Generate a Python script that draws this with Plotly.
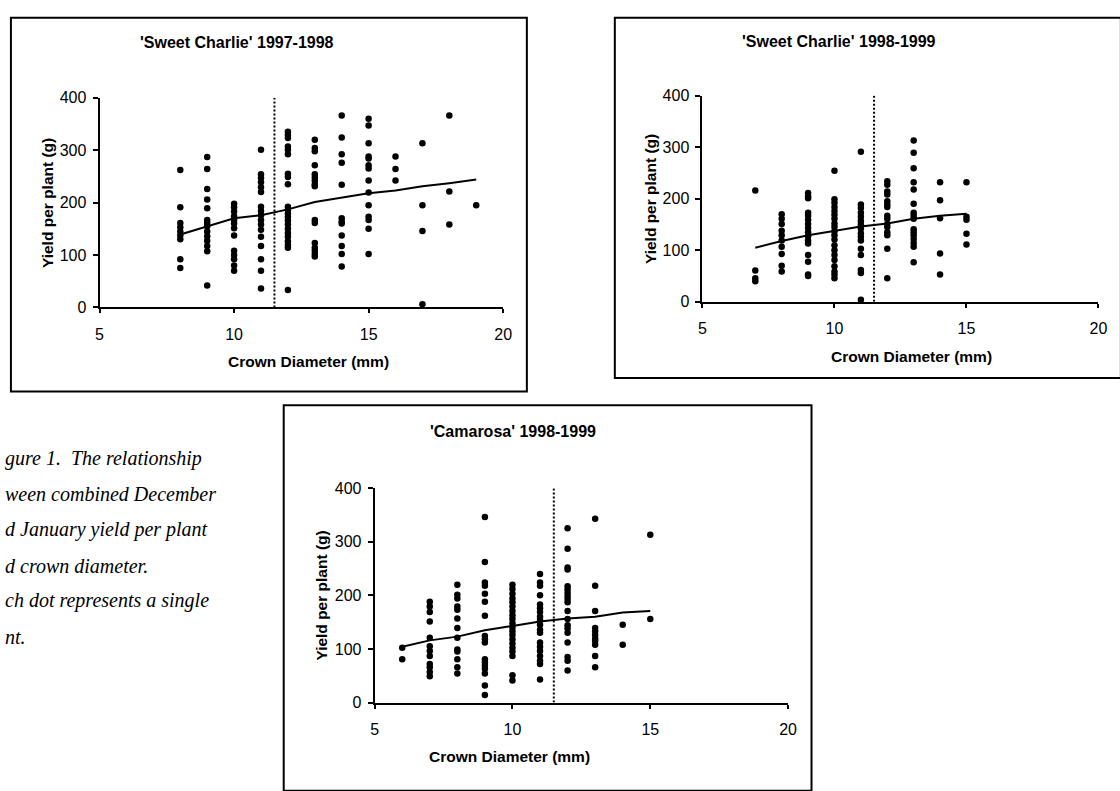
import plotly.graph_objects as go

W, H = 1120, 791

# ---------------- data ----------------
# 'Sweet Charlie' 1997-1998
sc9798_diam = [8, 9, 10, 11, 12, 13, 14, 15, 16, 17, 18, 19]
sc9798_yield = [
    [262, 191, 161, 153, 145, 137, 130, 92, 75],
    [287, 264, 226, 206, 189, 167, 161, 155, 145, 136, 127, 117, 107, 42],
    [198, 191, 183, 174, 167, 160, 151, 137, 108, 100, 92, 80, 70],
    [301, 254, 247, 239, 229, 220, 192, 184, 176, 167, 158, 148, 135, 117, 92, 70, 36],
    [335, 329, 323, 307, 301, 292, 255, 249, 235, 192, 186, 179, 173, 166, 158, 150, 142, 135, 126, 119, 114, 33],
    [320, 304, 298, 271, 254, 248, 242, 235, 231, 167, 161, 123, 114, 108, 102, 97],
    [366, 324, 292, 276, 234, 170, 164, 160, 137, 117, 102, 78],
    [360, 347, 313, 288, 284, 271, 265, 242, 219, 195, 173, 167, 150, 102],
    [288, 264, 242],
    [313, 195, 146, 6],
    [366, 221, 158],
    [195],
]
sc9798_trend_diam = [8, 9, 10, 11, 12, 13, 14, 15, 16, 17, 18, 19]
sc9798_trend_yield = [139, 155, 170, 176, 187, 201, 209, 218, 223, 231, 237, 244]

# 'Sweet Charlie' 1998-1999
sc9899_diam = [7, 8, 9, 10, 11, 12, 13, 14, 15]
sc9899_yield = [
    [216, 61, 46, 40],
    [170, 161, 151, 138, 129, 119, 107, 93, 70, 59],
    [211, 205, 201, 173, 167, 159, 151, 143, 135, 127, 119, 113, 91, 78, 53, 50],
    [254, 199, 192, 184, 176, 169, 161, 152, 145, 137, 129, 121, 110, 100, 91, 81, 69, 59, 53, 46],
    [291, 189, 182, 173, 165, 157, 150, 142, 133, 126, 119, 103, 91, 62, 56, 4],
    [234, 227, 214, 208, 195, 189, 184, 167, 161, 151, 145, 135, 129, 103, 46],
    [313, 289, 259, 232, 218, 190, 173, 167, 161, 141, 135, 129, 122, 114, 107, 77],
    [232, 197, 162, 94, 53],
    [232, 165, 159, 132, 111],
]
sc9899_trend_diam = [7, 8, 9, 10, 11, 12, 13, 14, 15]
sc9899_trend_yield = [105, 118, 129, 137, 146, 152, 161, 167, 171]

# 'Camarosa' 1998-1999
cam9899_diam = [6, 7, 8, 9, 10, 11, 12, 13, 14, 15]
cam9899_yield = [
    [102, 81],
    [188, 179, 169, 151, 121, 105, 96, 87, 72, 66, 57, 49],
    [220, 201, 194, 179, 173, 157, 139, 121, 99, 95, 81, 66, 54],
    [346, 262, 224, 218, 203, 188, 162, 124, 118, 112, 81, 75, 69, 63, 54, 32, 14],
    [220, 212, 203, 194, 187, 179, 171, 163, 156, 148, 140, 133, 126, 118, 110, 102, 95, 87, 51, 41],
    [240, 224, 218, 200, 183, 176, 169, 160, 154, 145, 136, 130, 112, 104, 96, 87, 78, 72, 43],
    [325, 287, 252, 248, 217, 211, 205, 199, 193, 187, 171, 156, 144, 138, 130, 112, 85, 78, 60],
    [343, 218, 171, 139, 133, 126, 119, 115, 108, 87, 66],
    [145, 108],
    [313, 156],
]
cam9899_trend_diam = [6, 7, 8, 9, 10, 11, 12, 13, 14, 15]
cam9899_trend_yield = [104, 116, 123, 135, 143, 151, 157, 160, 168, 171]

threshold_diam = [11.5, 11.5]
threshold_yield = [0, 400]

titles = ["'Sweet Charlie' 1997-1998", "'Sweet Charlie' 1998-1999", "'Camarosa' 1998-1999"]
x_title = "Crown Diameter (mm)"
y_title = "Yield per plant (g)"
x_ticks = [5, 10, 15, 20]
y_ticks = [0, 100, 200, 300, 400]

# caption as visible in the picture (its left part is cut off by the page edge)
caption_lines = [
    "gure 1.  The relationship",
    "ween combined December",
    "d January yield per plant",
    "d crown diameter.",
    "ch dot represents a single",
    "nt.",
]


# ---------------- layout helpers ----------------
def px(x):
    return x / W


def py(y):
    return 1 - y / H


FONT = "Arial, Liberation Sans, sans-serif"

panels = [
    dict(diam=sc9798_diam, yld=sc9798_yield, tx=sc9798_trend_diam, ty=sc9798_trend_yield,
         xd=(96.7, 505.0), yd=(306.0, 91.7), title_xy=(236, 35), ytitle_x=44, xtitle_xy=(308, 361),
         border=(7, 10, 529, 392)),
    dict(diam=sc9899_diam, yld=sc9899_yield, tx=sc9899_trend_diam, ty=sc9899_trend_yield,
         xd=(706.7, 1107.3), yd=(300.3, 89.5), title_xy=(845, 34), ytitle_x=654, xtitle_xy=(918, 356),
         border=(618, 10, 1130, 378)),
    dict(diam=cam9899_diam, yld=cam9899_yield, tx=cam9899_trend_diam, ty=cam9899_trend_yield,
         xd=(375.0, 793.3), yd=(709.8, 490.7), title_xy=(515, 433), ytitle_x=321, xtitle_xy=(511, 765),
         border=(283, 406, 817, 800)),
]

fig = go.Figure()
annotations = []
shapes = []
layout_axes = {}

for i, p in enumerate(panels):
    sfx = "" if i == 0 else str(i + 1)
    xa, ya = "x" + sfx, "y" + sfx
    xs, ys = [], []
    for d, vals in zip(p["diam"], p["yld"]):
        for v in vals:
            xs.append(d)
            ys.append(v)
    fig.add_trace(go.Scatter(x=xs, y=ys, mode="markers", xaxis=xa, yaxis=ya,
                             marker=dict(color="black", size=6.5, line=dict(width=0)),
                             cliponaxis=False, showlegend=False, hoverinfo="x+y"))
    fig.add_trace(go.Scatter(x=p["tx"], y=p["ty"], mode="lines", xaxis=xa, yaxis=ya,
                             line=dict(color="black", width=2), showlegend=False))
    fig.add_trace(go.Scatter(x=threshold_diam, y=threshold_yield, mode="lines", xaxis=xa, yaxis=ya,
                             line=dict(color="black", width=2, dash="2px,2px"), showlegend=False))

    axis_common = dict(showline=True, linecolor="black", linewidth=2, showgrid=False, zeroline=False,
                       ticks="outside", tickcolor="black", tickwidth=2,
                       tickfont=dict(family=FONT, size=16, color="black"),
                       fixedrange=True)
    layout_axes["xaxis" + sfx] = dict(axis_common, domain=[px(p["xd"][0]), px(p["xd"][1])],
                                      range=[5, 20], tickvals=x_ticks, anchor=ya, ticklen=4,
                                      ticklabelstandoff=7)
    layout_axes["yaxis" + sfx] = dict(axis_common, domain=[py(p["yd"][0]), py(p["yd"][1])],
                                      range=[0, 400], tickvals=y_ticks, anchor=xa, ticklen=5,
                                      ticklabelstandoff=3)

    bx0, by0, bx1, by1 = p["border"]
    shapes.append(dict(type="rect", xref="paper", yref="paper", x0=px(bx0), x1=px(bx1),
                       y0=py(by0), y1=py(by1), line=dict(color="black", width=2)))

    annotations.append(dict(text="<b>" + titles[i] + "</b>", xref="paper", yref="paper",
                            x=px(p["title_xy"][0]), y=py(p["title_xy"][1]), showarrow=False,
                            xanchor="center", yanchor="middle",
                            font=dict(family=FONT, size=16, color="black")))
    annotations.append(dict(text="<b>" + x_title + "</b>", xref="paper", yref="paper",
                            x=px(p["xtitle_xy"][0]), y=py(p["xtitle_xy"][1]), showarrow=False,
                            xanchor="center", yanchor="middle",
                            font=dict(family=FONT, size=15.5, color="black")))
    annotations.append(dict(text="<b>" + y_title + "</b>", xref="paper", yref="paper",
                            x=px(p["ytitle_x"]), y=py((p["yd"][0] + p["yd"][1]) / 2), showarrow=False,
                            textangle=-90, xanchor="center", yanchor="middle",
                            font=dict(family=FONT, size=15.5, color="black")))

caption_y = [460, 497, 533, 570, 606, 643]
for line, yy in zip(caption_lines, caption_y):
    annotations.append(dict(text=line, xref="paper", yref="paper", x=0, y=py(yy),
                            showarrow=False, xanchor="left", yanchor="middle", xshift=-1,
                            font=dict(family="Liberation Serif, Times New Roman, serif", size=20,
                                      color="black", style="italic")))

fig.update_layout(width=W, height=H, margin=dict(l=0, r=0, t=0, b=0),
                  paper_bgcolor="white", plot_bgcolor="white",
                  annotations=annotations, shapes=shapes, showlegend=False, **layout_axes)

fig.write_html("out.html", config={"displayModeBar": False, "staticPlot": True},
               post_script="document.body.style.margin='0';document.body.style.overflow='hidden';")
